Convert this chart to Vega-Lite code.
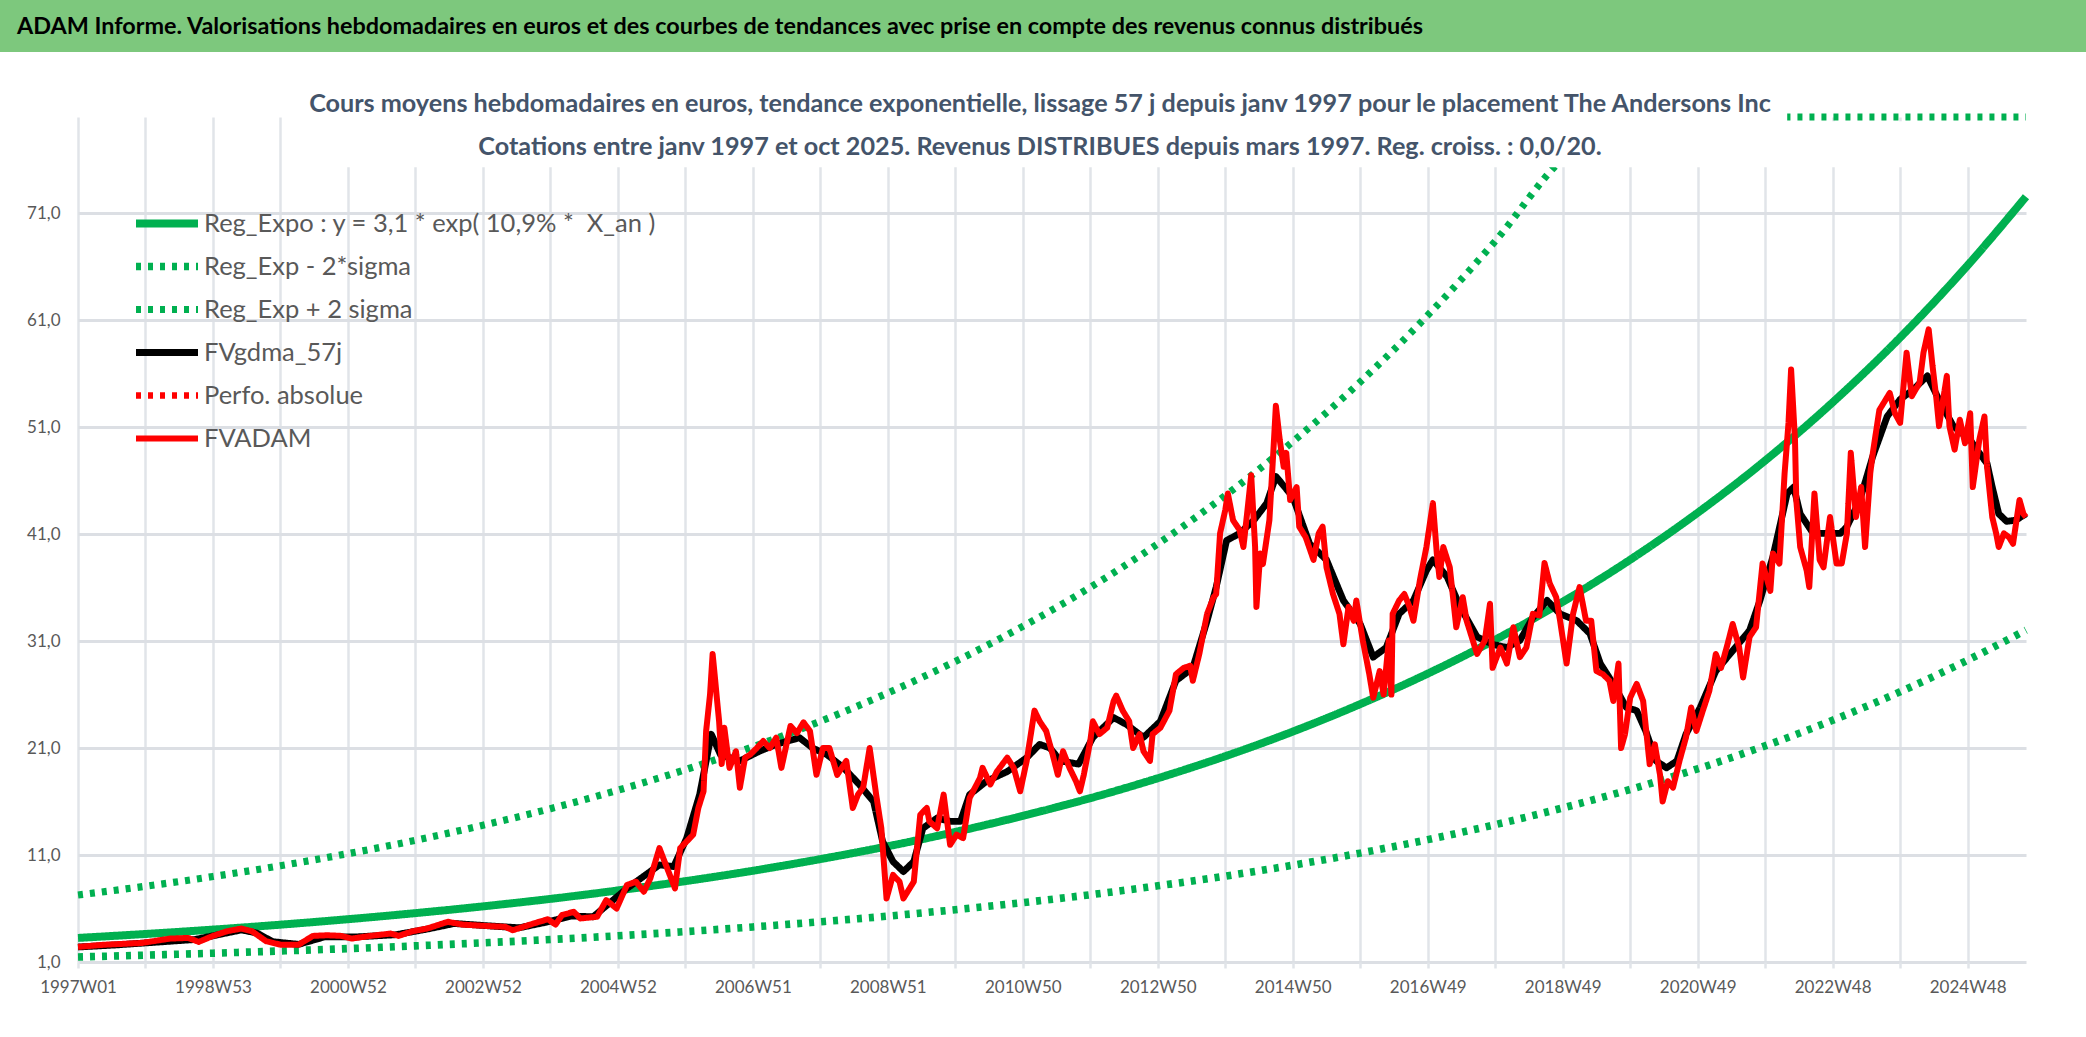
{
  "$schema": "https://vega.github.io/schema/vega-lite/v6.json",
  "background": "white",
  "padding": 0,
  "spacing": 40,
  "config": {"view": {"stroke": null}, "font": "Lato"},
  "vconcat": [
    {
      "width": 2008,
      "height": 52,
      "data": {"values": [{"t": "ADAM Informe. Valorisations hebdomadaires en euros et des courbes de tendances avec prise en compte des revenus connus distribués"}]},
      "layer": [
        {
          "mark": {"type": "rect", "color": "#7dc87d"},
          "encoding": {
            "x": {"datum": -78, "type": "quantitative", "scale": {"domain": [0, 2008], "nice": false, "zero": false}, "axis": null},
            "x2": {"datum": 2008}
          }
        },
        {
          "mark": {"type": "text", "align": "left", "baseline": "middle", "dy": 1, "fontSize": 23.4, "fontWeight": "bold", "color": "#000000"},
          "encoding": {
            "text": {"field": "t"},
            "x": {"datum": -61, "type": "quantitative"}
          }
        }
      ]
    },
    {
      "width": 1948,
      "height": 845,
      "title": {
        "text": ["Cours moyens hebdomadaires en euros, tendance exponentielle, lissage 57 j depuis janv 1997 pour le placement The Andersons Inc", "Cotations entre janv 1997 et oct 2025. Revenus DISTRIBUES depuis mars 1997. Reg. croiss. : 0,0/20."],
        "anchor": "middle",
        "frame": "group",
        "fontSize": 25.2,
        "fontWeight": "bold",
        "color": "#44546a",
        "lineHeight": 43,
        "offset": -58,
        "dx": -12
      },
      "data": {"values": [
        {"s":"reg","w":0,"v":3.25},{"s":"reg","w":52,"v":3.62},{"s":"reg","w":104,"v":4.03},{"s":"reg","w":156,"v":4.49},{"s":"reg","w":208,"v":5.0},{"s":"reg","w":260,"v":5.57},{"s":"reg","w":312,"v":6.2},{"s":"reg","w":364,"v":6.9},{"s":"reg","w":416,"v":7.69},{"s":"reg","w":468,"v":8.56},{"s":"reg","w":520,"v":9.53},{"s":"reg","w":572,"v":10.62},{"s":"reg","w":624,"v":11.82},{"s":"reg","w":676,"v":13.16},{"s":"reg","w":728,"v":14.66},{"s":"reg","w":780,"v":16.32},{"s":"reg","w":832,"v":18.18},{"s":"reg","w":884,"v":20.24},{"s":"reg","w":936,"v":22.54},{"s":"reg","w":988,"v":25.11},{"s":"reg","w":1040,"v":27.96},{"s":"reg","w":1092,"v":31.13},{"s":"reg","w":1144,"v":34.67},{"s":"reg","w":1196,"v":38.61},{"s":"reg","w":1248,"v":43.0},{"s":"reg","w":1300,"v":47.88},{"s":"reg","w":1352,"v":53.32},{"s":"reg","w":1404,"v":59.38},{"s":"reg","w":1456,"v":66.13},{"s":"reg","w":1501,"v":72.55},
        {"s":"low","w":0,"v":1.47},{"s":"low","w":52,"v":1.64},{"s":"low","w":104,"v":1.82},{"s":"low","w":156,"v":2.03},{"s":"low","w":208,"v":2.25},{"s":"low","w":260,"v":2.51},{"s":"low","w":312,"v":2.79},{"s":"low","w":364,"v":3.1},{"s":"low","w":416,"v":3.45},{"s":"low","w":468,"v":3.84},{"s":"low","w":520,"v":4.28},{"s":"low","w":572,"v":4.76},{"s":"low","w":624,"v":5.29},{"s":"low","w":676,"v":5.89},{"s":"low","w":728,"v":6.55},{"s":"low","w":780,"v":7.29},{"s":"low","w":832,"v":8.12},{"s":"low","w":884,"v":9.03},{"s":"low","w":936,"v":10.05},{"s":"low","w":988,"v":11.18},{"s":"low","w":1040,"v":12.44},{"s":"low","w":1092,"v":13.84},{"s":"low","w":1144,"v":15.4},{"s":"low","w":1196,"v":17.13},{"s":"low","w":1248,"v":19.06},{"s":"low","w":1300,"v":21.21},{"s":"low","w":1352,"v":23.6},{"s":"low","w":1404,"v":26.26},{"s":"low","w":1456,"v":29.22},{"s":"low","w":1501,"v":32.03},
        {"s":"high","w":0,"v":7.26},{"s":"high","w":52,"v":8.08},{"s":"high","w":104,"v":8.99},{"s":"high","w":156,"v":10.0},{"s":"high","w":208,"v":11.13},{"s":"high","w":260,"v":12.38},{"s":"high","w":312,"v":13.78},{"s":"high","w":364,"v":15.33},{"s":"high","w":416,"v":17.06},{"s":"high","w":468,"v":18.98},{"s":"high","w":520,"v":21.12},{"s":"high","w":572,"v":23.5},{"s":"high","w":624,"v":26.15},{"s":"high","w":676,"v":29.1},{"s":"high","w":728,"v":32.38},{"s":"high","w":780,"v":36.03},{"s":"high","w":832,"v":40.09},{"s":"high","w":884,"v":44.61},{"s":"high","w":936,"v":49.64},{"s":"high","w":988,"v":55.23},{"s":"high","w":1040,"v":61.46},{"s":"high","w":1092,"v":68.39},{"s":"high","w":1144,"v":76.1},{"s":"high","w":1196,"v":84.68},{"s":"high","w":1248,"v":94.2},{"s":"high","w":1300,"v":104.8},{"s":"high","w":1352,"v":116.6},{"s":"high","w":1404,"v":129.8},{"s":"high","w":1456,"v":144.4},{"s":"high","w":1501,"v":158.3},
        {"s":"gdma","w":0,"v":2.4},{"s":"gdma","w":30,"v":2.6},{"s":"gdma","w":60,"v":2.85},{"s":"gdma","w":90,"v":3.1},{"s":"gdma","w":110,"v":3.6},{"s":"gdma","w":126,"v":4.0},{"s":"gdma","w":138,"v":3.7},{"s":"gdma","w":150,"v":2.9},{"s":"gdma","w":170,"v":2.65},{"s":"gdma","w":190,"v":3.35},{"s":"gdma","w":215,"v":3.35},{"s":"gdma","w":245,"v":3.55},{"s":"gdma","w":270,"v":4.1},{"s":"gdma","w":290,"v":4.6},{"s":"gdma","w":320,"v":4.35},{"s":"gdma","w":340,"v":4.2},{"s":"gdma","w":360,"v":4.7},{"s":"gdma","w":380,"v":5.3},{"s":"gdma","w":397,"v":5.23},{"s":"gdma","w":423,"v":7.88},{"s":"gdma","w":448,"v":10.08},{"s":"gdma","w":459,"v":9.92},{"s":"gdma","w":469,"v":12.58},{"s":"gdma","w":479,"v":16.65},{"s":"gdma","w":488,"v":22.29},{"s":"gdma","w":495,"v":20.4},{"s":"gdma","w":510,"v":19.8},{"s":"gdma","w":525,"v":20.7},{"s":"gdma","w":538,"v":21.35},{"s":"gdma","w":556,"v":21.97},{"s":"gdma","w":566,"v":21.0},{"s":"gdma","w":577,"v":20.4},{"s":"gdma","w":590,"v":19.15},{"s":"gdma","w":602,"v":17.6},{"s":"gdma","w":613,"v":16.0},{"s":"gdma","w":620,"v":12.27},{"s":"gdma","w":628,"v":10.39},{"s":"gdma","w":636,"v":9.45},{"s":"gdma","w":644,"v":10.39},{"s":"gdma","w":651,"v":13.5},{"s":"gdma","w":662,"v":14.46},{"s":"gdma","w":672,"v":14.15},{"s":"gdma","w":680,"v":14.15},{"s":"gdma","w":687,"v":16.65},{"s":"gdma","w":700,"v":17.9},{"s":"gdma","w":716,"v":18.8},{"s":"gdma","w":731,"v":20.1},{"s":"gdma","w":741,"v":21.35},{"s":"gdma","w":749,"v":21.0},{"s":"gdma","w":757,"v":19.8},{"s":"gdma","w":771,"v":19.5},{"s":"gdma","w":782,"v":22.0},{"s":"gdma","w":798,"v":23.85},{"s":"gdma","w":808,"v":23.2},{"s":"gdma","w":821,"v":22.0},{"s":"gdma","w":834,"v":23.5},{"s":"gdma","w":846,"v":27.3},{"s":"gdma","w":859,"v":28.5},{"s":"gdma","w":870,"v":32.9},{"s":"gdma","w":877,"v":36.05},{"s":"gdma","w":885,"v":40.4},{"s":"gdma","w":895,"v":41.07},{"s":"gdma","w":906,"v":42.3},{"s":"gdma","w":916,"v":43.9},{"s":"gdma","w":923,"v":46.4},{"s":"gdma","w":936,"v":44.5},{"s":"gdma","w":949,"v":40.1},{"s":"gdma","w":962,"v":38.6},{"s":"gdma","w":975,"v":34.8},{"s":"gdma","w":988,"v":32.6},{"s":"gdma","w":998,"v":29.5},{"s":"gdma","w":1008,"v":30.4},{"s":"gdma","w":1018,"v":33.55},{"s":"gdma","w":1029,"v":34.8},{"s":"gdma","w":1039,"v":37.6},{"s":"gdma","w":1044,"v":38.6},{"s":"gdma","w":1055,"v":37.0},{"s":"gdma","w":1065,"v":34.2},{"s":"gdma","w":1078,"v":31.4},{"s":"gdma","w":1090,"v":30.7},{"s":"gdma","w":1101,"v":30.4},{"s":"gdma","w":1111,"v":31.05},{"s":"gdma","w":1121,"v":33.2},{"s":"gdma","w":1132,"v":34.8},{"s":"gdma","w":1142,"v":33.55},{"s":"gdma","w":1155,"v":32.9},{"s":"gdma","w":1165,"v":31.7},{"s":"gdma","w":1173,"v":28.9},{"s":"gdma","w":1183,"v":27.0},{"s":"gdma","w":1193,"v":24.8},{"s":"gdma","w":1201,"v":24.5},{"s":"gdma","w":1208,"v":22.6},{"s":"gdma","w":1216,"v":19.8},{"s":"gdma","w":1224,"v":19.15},{"s":"gdma","w":1232,"v":19.8},{"s":"gdma","w":1239,"v":22.3},{"s":"gdma","w":1250,"v":24.8},{"s":"gdma","w":1262,"v":28.2},{"s":"gdma","w":1275,"v":30.1},{"s":"gdma","w":1288,"v":32.0},{"s":"gdma","w":1296,"v":34.8},{"s":"gdma","w":1306,"v":38.9},{"s":"gdma","w":1317,"v":44.8},{"s":"gdma","w":1322,"v":45.4},{"s":"gdma","w":1327,"v":42.9},{"s":"gdma","w":1337,"v":41.07},{"s":"gdma","w":1347,"v":41.07},{"s":"gdma","w":1358,"v":41.07},{"s":"gdma","w":1363,"v":41.7},{"s":"gdma","w":1373,"v":44.2},{"s":"gdma","w":1383,"v":48.3},{"s":"gdma","w":1394,"v":52.0},{"s":"gdma","w":1404,"v":53.6},{"s":"gdma","w":1414,"v":54.5},{"s":"gdma","w":1425,"v":55.8},{"s":"gdma","w":1435,"v":53.3},{"s":"gdma","w":1445,"v":51.1},{"s":"gdma","w":1458,"v":49.8},{"s":"gdma","w":1465,"v":48.6},{"s":"gdma","w":1471,"v":47.6},{"s":"gdma","w":1475,"v":45.4},{"s":"gdma","w":1480,"v":42.9},{"s":"gdma","w":1486,"v":42.2},{"s":"gdma","w":1493,"v":42.3},{"s":"gdma","w":1501,"v":42.9},
        {"s":"adam","w":0,"v":2.41},{"s":"adam","w":21,"v":2.62},{"s":"adam","w":49,"v":2.78},{"s":"adam","w":71,"v":3.19},{"s":"adam","w":85,"v":3.25},{"s":"adam","w":93,"v":2.88},{"s":"adam","w":104,"v":3.44},{"s":"adam","w":115,"v":3.88},{"s":"adam","w":126,"v":4.13},{"s":"adam","w":134,"v":3.88},{"s":"adam","w":145,"v":2.94},{"s":"adam","w":156,"v":2.62},{"s":"adam","w":170,"v":2.62},{"s":"adam","w":181,"v":3.44},{"s":"adam","w":192,"v":3.5},{"s":"adam","w":203,"v":3.44},{"s":"adam","w":211,"v":3.19},{"s":"adam","w":225,"v":3.44},{"s":"adam","w":241,"v":3.66},{"s":"adam","w":247,"v":3.44},{"s":"adam","w":258,"v":3.88},{"s":"adam","w":269,"v":4.13},{"s":"adam","w":285,"v":4.76},{"s":"adam","w":296,"v":4.5},{"s":"adam","w":313,"v":4.38},{"s":"adam","w":329,"v":4.29},{"s":"adam","w":335,"v":3.97},{"s":"adam","w":351,"v":4.6},{"s":"adam","w":362,"v":5.0},{"s":"adam","w":368,"v":4.5},{"s":"adam","w":373,"v":5.4},{"s":"adam","w":382,"v":5.69},{"s":"adam","w":387,"v":5.07},{"s":"adam","w":400,"v":5.23},{"s":"adam","w":407,"v":6.79},{"s":"adam","w":415,"v":6.0},{"s":"adam","w":423,"v":8.2},{"s":"adam","w":430,"v":8.51},{"s":"adam","w":436,"v":7.57},{"s":"adam","w":441,"v":8.82},{"s":"adam","w":448,"v":11.64},{"s":"adam","w":454,"v":9.76},{"s":"adam","w":460,"v":7.88},{"s":"adam","w":464,"v":11.64},{"s":"adam","w":469,"v":12.27},{"s":"adam","w":474,"v":12.9},{"s":"adam","w":478,"v":15.4},{"s":"adam","w":482,"v":16.96},{"s":"adam","w":484,"v":22.6},{"s":"adam","w":487,"v":26.0},{"s":"adam","w":489,"v":29.8},{"s":"adam","w":491,"v":27.3},{"s":"adam","w":492,"v":26.0},{"s":"adam","w":494,"v":23.5},{"s":"adam","w":496,"v":19.5},{"s":"adam","w":498,"v":22.9},{"s":"adam","w":502,"v":19.15},{"s":"adam","w":507,"v":20.7},{"s":"adam","w":510,"v":17.3},{"s":"adam","w":514,"v":20.1},{"s":"adam","w":518,"v":20.4},{"s":"adam","w":523,"v":21.0},{"s":"adam","w":528,"v":21.66},{"s":"adam","w":533,"v":21.0},{"s":"adam","w":538,"v":21.97},{"s":"adam","w":542,"v":19.15},{"s":"adam","w":549,"v":23.07},{"s":"adam","w":554,"v":22.4},{"s":"adam","w":559,"v":23.4},{"s":"adam","w":564,"v":22.6},{"s":"adam","w":569,"v":18.5},{"s":"adam","w":574,"v":21.0},{"s":"adam","w":579,"v":21.0},{"s":"adam","w":585,"v":18.5},{"s":"adam","w":592,"v":19.8},{"s":"adam","w":597,"v":15.4},{"s":"adam","w":601,"v":16.65},{"s":"adam","w":605,"v":17.3},{"s":"adam","w":610,"v":21.0},{"s":"adam","w":615,"v":16.65},{"s":"adam","w":619,"v":13.5},{"s":"adam","w":623,"v":6.94},{"s":"adam","w":628,"v":9.14},{"s":"adam","w":633,"v":8.51},{"s":"adam","w":636,"v":6.94},{"s":"adam","w":644,"v":8.51},{"s":"adam","w":649,"v":14.77},{"s":"adam","w":654,"v":15.4},{"s":"adam","w":656,"v":14.15},{"s":"adam","w":662,"v":13.5},{"s":"adam","w":667,"v":16.65},{"s":"adam","w":672,"v":11.96},{"s":"adam","w":677,"v":12.9},{"s":"adam","w":682,"v":12.58},{"s":"adam","w":687,"v":16.33},{"s":"adam","w":695,"v":18.2},{"s":"adam","w":697,"v":19.15},{"s":"adam","w":703,"v":17.6},{"s":"adam","w":708,"v":18.8},{"s":"adam","w":716,"v":20.1},{"s":"adam","w":721,"v":19.15},{"s":"adam","w":726,"v":16.96},{"s":"adam","w":731,"v":19.8},{"s":"adam","w":737,"v":24.5},{"s":"adam","w":741,"v":23.5},{"s":"adam","w":746,"v":22.6},{"s":"adam","w":751,"v":20.4},{"s":"adam","w":755,"v":18.5},{"s":"adam","w":759,"v":20.7},{"s":"adam","w":764,"v":19.15},{"s":"adam","w":769,"v":17.9},{"s":"adam","w":772,"v":16.96},{"s":"adam","w":775,"v":18.5},{"s":"adam","w":780,"v":21.66},{"s":"adam","w":782,"v":23.5},{"s":"adam","w":787,"v":22.3},{"s":"adam","w":793,"v":22.9},{"s":"adam","w":798,"v":25.4},{"s":"adam","w":800,"v":25.9},{"s":"adam","w":805,"v":24.5},{"s":"adam","w":810,"v":23.5},{"s":"adam","w":813,"v":21.0},{"s":"adam","w":818,"v":22.3},{"s":"adam","w":821,"v":20.7},{"s":"adam","w":826,"v":19.8},{"s":"adam","w":828,"v":22.3},{"s":"adam","w":834,"v":22.9},{"s":"adam","w":841,"v":24.5},{"s":"adam","w":846,"v":27.9},{"s":"adam","w":852,"v":28.5},{"s":"adam","w":857,"v":28.7},{"s":"adam","w":859,"v":27.3},{"s":"adam","w":864,"v":29.8},{"s":"adam","w":870,"v":33.55},{"s":"adam","w":875,"v":35.1},{"s":"adam","w":877,"v":35.4},{"s":"adam","w":880,"v":41.07},{"s":"adam","w":884,"v":43.25},{"s":"adam","w":886,"v":44.8},{"s":"adam","w":890,"v":42.3},{"s":"adam","w":895,"v":41.4},{"s":"adam","w":898,"v":39.8},{"s":"adam","w":900,"v":42.0},{"s":"adam","w":904,"v":46.5},{"s":"adam","w":907,"v":39.8},{"s":"adam","w":908,"v":34.2},{"s":"adam","w":911,"v":39.2},{"s":"adam","w":913,"v":38.2},{"s":"adam","w":918,"v":42.3},{"s":"adam","w":921,"v":48.6},{"s":"adam","w":923,"v":53.0},{"s":"adam","w":926,"v":49.8},{"s":"adam","w":929,"v":47.3},{"s":"adam","w":931,"v":48.6},{"s":"adam","w":934,"v":44.2},{"s":"adam","w":939,"v":45.4},{"s":"adam","w":941,"v":41.7},{"s":"adam","w":946,"v":40.7},{"s":"adam","w":952,"v":38.6},{"s":"adam","w":956,"v":41.07},{"s":"adam","w":959,"v":41.7},{"s":"adam","w":962,"v":37.9},{"s":"adam","w":967,"v":35.4},{"s":"adam","w":972,"v":33.55},{"s":"adam","w":975,"v":30.7},{"s":"adam","w":979,"v":34.2},{"s":"adam","w":983,"v":32.9},{"s":"adam","w":985,"v":34.8},{"s":"adam","w":990,"v":31.05},{"s":"adam","w":995,"v":27.9},{"s":"adam","w":998,"v":25.7},{"s":"adam","w":1003,"v":28.2},{"s":"adam","w":1006,"v":26.0},{"s":"adam","w":1010,"v":31.05},{"s":"adam","w":1012,"v":26.0},{"s":"adam","w":1013,"v":33.55},{"s":"adam","w":1018,"v":34.8},{"s":"adam","w":1022,"v":35.4},{"s":"adam","w":1026,"v":34.2},{"s":"adam","w":1029,"v":32.9},{"s":"adam","w":1034,"v":36.7},{"s":"adam","w":1039,"v":39.8},{"s":"adam","w":1044,"v":43.9},{"s":"adam","w":1047,"v":39.2},{"s":"adam","w":1049,"v":37.0},{"s":"adam","w":1052,"v":39.8},{"s":"adam","w":1057,"v":37.9},{"s":"adam","w":1062,"v":32.3},{"s":"adam","w":1067,"v":35.1},{"s":"adam","w":1070,"v":32.9},{"s":"adam","w":1078,"v":29.8},{"s":"adam","w":1084,"v":31.05},{"s":"adam","w":1088,"v":34.5},{"s":"adam","w":1090,"v":28.5},{"s":"adam","w":1096,"v":30.4},{"s":"adam","w":1101,"v":28.9},{"s":"adam","w":1106,"v":32.3},{"s":"adam","w":1111,"v":29.5},{"s":"adam","w":1116,"v":30.4},{"s":"adam","w":1121,"v":33.55},{"s":"adam","w":1126,"v":33.4},{"s":"adam","w":1130,"v":38.3},{"s":"adam","w":1134,"v":36.4},{"s":"adam","w":1139,"v":35.1},{"s":"adam","w":1142,"v":32.9},{"s":"adam","w":1147,"v":28.9},{"s":"adam","w":1152,"v":33.55},{"s":"adam","w":1157,"v":36.05},{"s":"adam","w":1162,"v":32.9},{"s":"adam","w":1166,"v":32.9},{"s":"adam","w":1170,"v":28.2},{"s":"adam","w":1175,"v":27.9},{"s":"adam","w":1180,"v":27.3},{"s":"adam","w":1183,"v":25.4},{"s":"adam","w":1187,"v":28.9},{"s":"adam","w":1189,"v":21.0},{"s":"adam","w":1192,"v":22.3},{"s":"adam","w":1196,"v":25.7},{"s":"adam","w":1201,"v":27.0},{"s":"adam","w":1206,"v":25.4},{"s":"adam","w":1211,"v":19.5},{"s":"adam","w":1215,"v":21.35},{"s":"adam","w":1219,"v":18.5},{"s":"adam","w":1221,"v":16.0},{"s":"adam","w":1225,"v":17.9},{"s":"adam","w":1229,"v":17.3},{"s":"adam","w":1234,"v":19.8},{"s":"adam","w":1239,"v":22.0},{"s":"adam","w":1243,"v":24.8},{"s":"adam","w":1247,"v":22.6},{"s":"adam","w":1252,"v":24.5},{"s":"adam","w":1257,"v":26.35},{"s":"adam","w":1262,"v":29.8},{"s":"adam","w":1266,"v":28.5},{"s":"adam","w":1271,"v":30.7},{"s":"adam","w":1275,"v":32.6},{"s":"adam","w":1280,"v":30.4},{"s":"adam","w":1283,"v":27.6},{"s":"adam","w":1288,"v":31.4},{"s":"adam","w":1293,"v":32.3},{"s":"adam","w":1298,"v":38.25},{"s":"adam","w":1304,"v":35.7},{"s":"adam","w":1306,"v":39.2},{"s":"adam","w":1311,"v":38.25},{"s":"adam","w":1315,"v":46.7},{"s":"adam","w":1318,"v":51.4},{"s":"adam","w":1320,"v":56.4},{"s":"adam","w":1323,"v":49.8},{"s":"adam","w":1324,"v":44.2},{"s":"adam","w":1327,"v":39.8},{"s":"adam","w":1332,"v":37.6},{"s":"adam","w":1334,"v":36.05},{"s":"adam","w":1338,"v":44.8},{"s":"adam","w":1342,"v":38.6},{"s":"adam","w":1345,"v":37.9},{"s":"adam","w":1350,"v":42.6},{"s":"adam","w":1355,"v":38.25},{"s":"adam","w":1359,"v":38.25},{"s":"adam","w":1363,"v":41.07},{"s":"adam","w":1366,"v":48.6},{"s":"adam","w":1370,"v":42.6},{"s":"adam","w":1374,"v":45.4},{"s":"adam","w":1377,"v":39.8},{"s":"adam","w":1381,"v":46.7},{"s":"adam","w":1383,"v":48.6},{"s":"adam","w":1388,"v":52.6},{"s":"adam","w":1396,"v":54.2},{"s":"adam","w":1400,"v":52.3},{"s":"adam","w":1404,"v":51.4},{"s":"adam","w":1409,"v":57.97},{"s":"adam","w":1413,"v":53.9},{"s":"adam","w":1419,"v":55.15},{"s":"adam","w":1422,"v":57.97},{"s":"adam","w":1426,"v":60.15},{"s":"adam","w":1429,"v":56.7},{"s":"adam","w":1432,"v":53.6},{"s":"adam","w":1434,"v":51.1},{"s":"adam","w":1440,"v":55.8},{"s":"adam","w":1442,"v":51.1},{"s":"adam","w":1446,"v":48.9},{"s":"adam","w":1450,"v":51.7},{"s":"adam","w":1454,"v":49.5},{"s":"adam","w":1458,"v":52.3},{"s":"adam","w":1460,"v":45.4},{"s":"adam","w":1465,"v":49.8},{"s":"adam","w":1469,"v":52.0},{"s":"adam","w":1471,"v":47.3},{"s":"adam","w":1475,"v":42.6},{"s":"adam","w":1478,"v":41.07},{"s":"adam","w":1480,"v":39.8},{"s":"adam","w":1484,"v":41.07},{"s":"adam","w":1488,"v":40.7},{"s":"adam","w":1491,"v":40.1},{"s":"adam","w":1496,"v":44.2},{"s":"adam","w":1499,"v":42.9},{"s":"adam","w":1501,"v":42.6}
      ]},
      "layer": [
        {
          "encoding": {
            "x": {
              "field": "w",
              "type": "quantitative",
              "scale": {"domain": [0, 1501], "nice": false, "zero": false},
              "axis": {
                "title": null,
                "values": [0, 52, 104, 156, 208, 260, 312, 364, 416, 468, 520, 572, 624, 676, 728, 780, 832, 884, 936, 988, 1040, 1092, 1144, 1196, 1248, 1300, 1352, 1404, 1456],
                "labelExpr": "datum.value % 104 == 0 ? ['1997W01','1998W53','2000W52','2002W52','2004W52','2006W51','2008W51','2010W50','2012W50','2014W50','2016W49','2018W49','2020W49','2022W48','2024W48'][datum.value / 104] : ''",
                "domain": false,
                "tickSize": 6,
                "tickColor": "#e1e4e9",
                "tickWidth": 2.5,
                "gridColor": "#e1e4e9",
                "gridWidth": 2.5,
                "labelPadding": 11,
                "labelFontSize": 17,
                "labelColor": "#595959",
                "labelFlush": false,
                "labelOverlap": false
              }
            },
            "y": {
              "field": "v",
              "type": "quantitative",
              "scale": {"domain": [1, 80], "nice": false, "zero": false, "clamp": true},
              "axis": {
                "title": null,
                "values": [1, 11, 21, 31, 41, 51, 61, 71],
                "labelExpr": "replace(format(datum.value, '.1f'), '.', ',')",
                "domain": false,
                "ticks": false,
                "tickSize": 0,
                "labelPadding": 18,
                "labelFontSize": 17,
                "labelColor": "#595959",
                "gridColor": "#dcdfe4",
                "gridWidth": 3,
                "minExtent": 78,
                "maxExtent": 78
              }
            },
            "color": {
              "field": "s",
              "type": "nominal",
              "scale": {"domain": ["reg", "low", "high", "gdma", "perfo", "adam"], "range": ["#00b050", "#00b050", "#00b050", "#000000", "#ff0000", "#ff0000"]},
              "legend": {
                "title": null,
                "orient": "none",
                "legendX": 54,
                "legendY": 202,
                "padding": 0,
                "symbolType": "stroke",
                "symbolSize": 3844,
                "clipHeight": 43,
                "rowPadding": 0,
                "labelFontSize": 25.5,
                "labelColor": "#595959",
                "labelOffset": 2,
                "labelLimit": 0,
                "labelExpr": "datum.label == 'reg' ? 'Reg_Expo : y = 3,1 * exp( 10,9% *\u00a0 X_an )' : datum.label == 'low' ? 'Reg_Exp - 2*sigma' : datum.label == 'high' ? 'Reg_Exp + 2 sigma' : datum.label == 'gdma' ? 'FVgdma_57j' : datum.label == 'perfo' ? 'Perfo. absolue' : 'FVADAM'"
              }
            },
            "strokeDash": {
              "field": "s",
              "type": "nominal",
              "scale": {"domain": ["reg", "low", "high", "gdma", "perfo", "adam"], "range": [[1, 0], [5, 7], [5, 7], [1, 0], [5, 7], [1, 0]]}
            },
            "strokeWidth": {
              "field": "s",
              "type": "nominal",
              "scale": {"domain": ["reg", "low", "high", "gdma", "perfo", "adam"], "range": [8, 6, 6, 5, 5, 5]}
            }
          },
          "layer": [
            {"transform": [{"filter": "datum.s == 'reg'"}], "mark": {"type": "line", "interpolate": "monotone", "strokeJoin": "round"}},
            {"transform": [{"filter": "datum.s == 'low'"}], "mark": {"type": "line", "interpolate": "monotone"}},
            {"transform": [{"filter": "datum.s == 'high'"}], "mark": {"type": "line", "interpolate": "monotone"}}
          ]
        },
        {
          "data": {"values": [{"cadre": "titre"}]},
          "mark": {"type": "rect", "fill": "#ffffff", "y2Offset": -6},
          "encoding": {
            "x": {"datum": 171, "type": "quantitative"},
            "x2": {"datum": 1317},
            "y": {"datum": 75.3, "type": "quantitative"},
            "y2": {"datum": 80}
          }
        },
        {
          "data": {"values": [{"cadre": "titre"}]},
          "mark": {"type": "rect", "fill": "#ffffff"},
          "encoding": {
            "x": {"datum": 1317, "type": "quantitative"},
            "x2": {"datum": 1501},
            "y": {"datum": 75.3, "type": "quantitative"},
            "y2": {"datum": 79.6}
          }
        },
        {
          "encoding": {
            "x": {"field": "w", "type": "quantitative"},
            "y": {"field": "v", "type": "quantitative"},
            "color": {"field": "s", "type": "nominal"},
            "strokeDash": {"field": "s", "type": "nominal"},
            "strokeWidth": {"field": "s", "type": "nominal"}
          },
          "layer": [
            {"transform": [{"filter": "datum.s == 'gdma'"}], "mark": {"type": "line", "strokeJoin": "round"}},
            {"transform": [{"filter": "datum.s == 'adam'"}], "mark": {"type": "line", "strokeJoin": "round"}}
          ]
        }
      ]
    }
  ]
}
